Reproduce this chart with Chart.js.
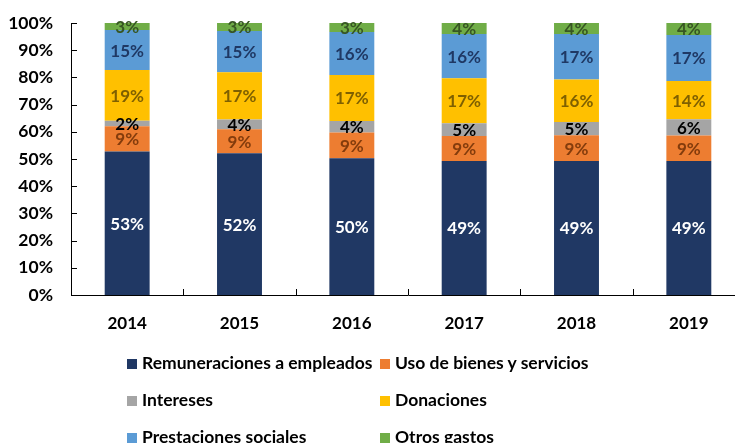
<!DOCTYPE html>
<html><head><meta charset="utf-8">
<script src="https://cdn.jsdelivr.net/npm/chart.js@4/dist/chart.umd.min.js"></script>
<style>
html,body{margin:0;padding:0;background:#fff;overflow:hidden;width:735px;height:443px;}
#wrap{position:relative;width:760px;height:443px;}
#legend{position:absolute;left:0;top:0;width:735px;height:443px;pointer-events:none;font-family:Lato, "Open Sans", sans-serif;font-weight:bold;font-size:17.5px;color:#000;}
.li{position:absolute;white-space:nowrap;line-height:20px;}
.li span.b{display:inline-block;width:10px;height:10px;margin-right:5px;vertical-align:0px;}
</style></head>
<body>
<div id="wrap"><canvas id="c" width="760" height="443"></canvas><div id="legend"></div></div>
<script>
const categories = ['2014','2015','2016','2017','2018','2019'];
const seriesNames = ['Remuneraciones a empleados','Uso de bienes y servicios','Intereses','Donaciones','Prestaciones sociales','Otros gastos'];
const remuneraciones = [52.8, 52.1, 50.3, 49.3, 49.3, 49.3];
const usoBienes      = [9.2, 8.8, 9.4, 9.2, 9.4, 9.3];
const intereses      = [2.1, 3.6, 4.3, 4.6, 4.9, 6.0];
const donaciones     = [18.6, 17.4, 16.9, 16.6, 15.6, 14.1];
const prestaciones   = [14.7, 15.2, 15.8, 16.3, 16.8, 16.9];
const otrosGastos    = [2.6, 2.9, 3.3, 4.0, 4.0, 4.4];
const yTicks = [0,10,20,30,40,50,60,70,80,90,100];

const colors = ['#203864','#ED7D31','#A5A5A5','#FFC000','#5B9BD5','#70AD47'];
const labelColors = ['#FFFFFF','#843C0C','#000000','#7F6000','#1F3864','#375623'];
const allData = [remuneraciones, usoBienes, intereses, donaciones, prestaciones, otrosGastos];
const FONT = 'Lato, "Open Sans", sans-serif';

const datasets = allData.map((d,i)=>({
  label: seriesNames[i], data: d, backgroundColor: colors[i],
  borderWidth: 0, barPercentage: 0.4, categoryPercentage: 1.0
}));

const tickPlugin = {
  id:'ticks',
  afterDraw(chart){
    const ctx = chart.ctx, y = chart.scales.y, x = chart.scales.x, ca = chart.chartArea;
    ctx.save();
    ctx.strokeStyle = '#000'; ctx.lineWidth = 1;
    yTicks.forEach(v=>{
      const py = Math.round(y.getPixelForValue(v))+0.5;
      ctx.beginPath(); ctx.moveTo(ca.left, py); ctx.lineTo(ca.left+6, py); ctx.stroke();
    });
    for(let i=0;i<categories.length-1;i++){
      const px = Math.round((x.getPixelForValue(i)+x.getPixelForValue(i+1))/2)+0.5;
      ctx.beginPath(); ctx.moveTo(px, ca.bottom); ctx.lineTo(px, ca.bottom-6); ctx.stroke();
    }
    ctx.font = 'bold 17px '+FONT;
    ctx.textAlign='center'; ctx.textBaseline='middle';
    chart.data.datasets.forEach((ds,di)=>{
      const meta = chart.getDatasetMeta(di);
      meta.data.forEach((bar,j)=>{
        const v = ds.data[j];
        ctx.fillStyle = labelColors[di];
        ctx.fillText(Math.round(v)+'%', bar.x, (bar.y+bar.base)/2+1);
      });
    });
    ctx.restore();
  }
};

new Chart(document.getElementById('c'), {
  type:'bar',
  data:{labels:categories, datasets},
  options:{
    responsive:false, animation:false,
    layout:{padding:{top:23,left:0,right:15,bottom:0}},
    plugins:{legend:{display:false}, tooltip:{enabled:false}},
    scales:{
      x:{stacked:true, grid:{display:false, drawTicks:false}, border:{display:true,color:'#000',width:1},
         ticks:{padding:18, color:'#000', font:{family:FONT,size:17,weight:'bold'}},
         afterFit(s){ s.height = 148; s.paddingLeft = 0; s.paddingRight = 0; }},
      y:{stacked:true, min:0, max:100, grid:{display:false, drawTicks:false}, border:{display:true,color:'#000',width:1},
         afterBuildTicks(s){ s.ticks = yTicks.map(v=>({value:v})); },
         ticks:{padding:18, color:'#000', font:{family:FONT,size:17.5,weight:'bold'}, callback:v=>v+'%'},
         afterFit(s){ s.width = 71; s.paddingTop = 0; s.paddingBottom = 0; }}
    }
  },
  plugins:[tickPlugin]
});

const legendPos = [[127,363],[380,363],[127,400],[380,400],[127,437],[380,437]];
const lg = document.getElementById('legend');
seriesNames.forEach((n,i)=>{
  const d = document.createElement('div'); d.className='li';
  d.style.left = legendPos[i][0]+'px'; d.style.top = (legendPos[i][1]-10)+'px';
  d.innerHTML = '<span class="b" style="background:'+colors[i]+'"></span>'+n;
  lg.appendChild(d);
});
</script>
</body></html>
